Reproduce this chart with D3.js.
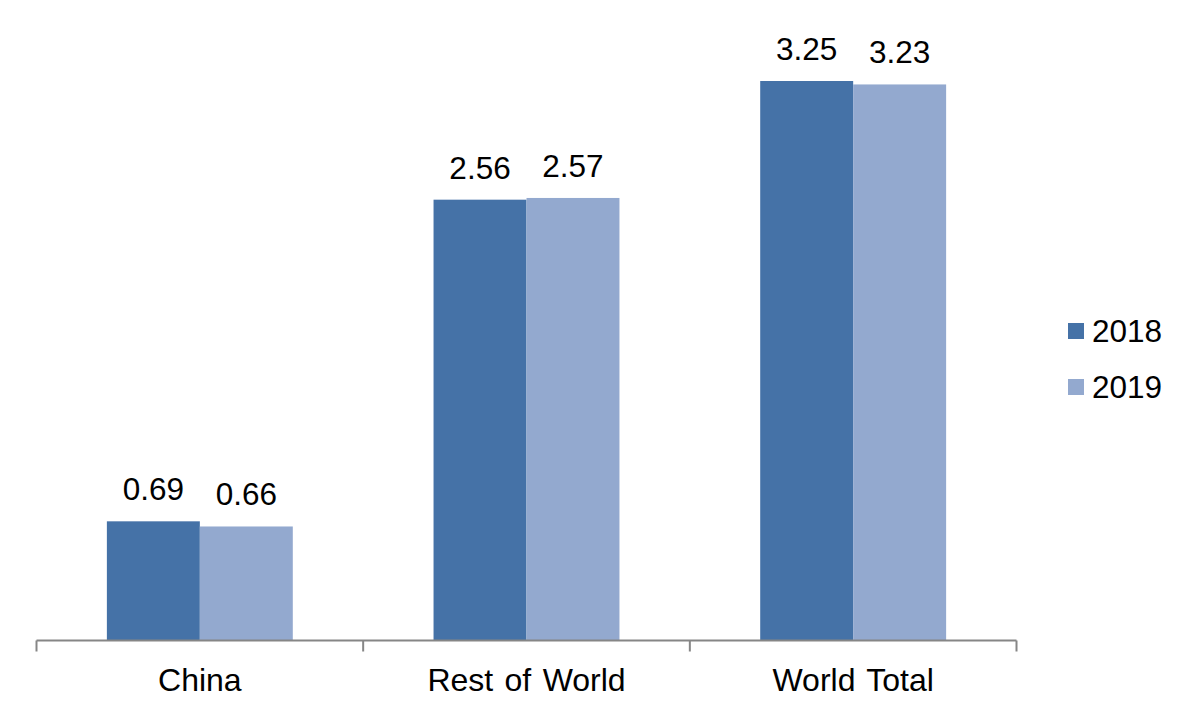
<!DOCTYPE html>
<html>
<head>
<meta charset="utf-8">
<script src="https://cdn.jsdelivr.net/npm/d3@7"></script>
<style>
html,body{margin:0;padding:0;background:#fff;}
svg{display:block;}
text{font-family:"Liberation Sans", Arial, sans-serif;fill:#000;}
</style>
</head>
<body>
<svg id="chart" width="1200" height="720"></svg>
<script>
const categories = ["China", "Rest of World", "World Total"];
const seriesNames = ["2018", "2019"];
const values2018 = [0.69, 2.56, 3.25];
const values2019 = [0.66, 2.57, 3.23];
const seriesValues = [values2018, values2019];
const colors = ["#4572A7", "#93A9CF"];

const svg = d3.select("#chart");
const axisY = 640.5;
const x0 = d3.scaleBand().domain(categories).range([36.5, 1016.5]).paddingInner(0).paddingOuter(0);
const x1 = d3.scaleBand().domain(seriesNames).range([0, x0.bandwidth()]).paddingInner(0).paddingOuter(0.757);
const y = d3.scaleLinear().domain([0, 3.5]).range([640, 640 - 3.5 * 172]);

const data = [];
categories.forEach((c, i) => {
  seriesNames.forEach((s, j) => data.push({cat: c, ser: s, v: seriesValues[j][i], j}));
});

svg.append("g").selectAll("rect").data(data).enter().append("rect")
  .attr("x", d => x0(d.cat) + x1(d.ser))
  .attr("width", x1.bandwidth())
  .attr("y", d => y(d.v))
  .attr("height", d => y(0) - y(d.v))
  .attr("fill", d => colors[d.j]);

svg.append("g").selectAll("text").data(data).enter().append("text")
  .attr("x", d => x0(d.cat) + x1(d.ser) + x1.bandwidth() / 2)
  .attr("y", d => y(d.v) - 21)
  .attr("text-anchor", "middle")
  .style("font-size", "31.5px")
  .text(d => d.v.toFixed(2));

// x axis
const ax = svg.append("g").attr("transform", `translate(0,${axisY})`);
ax.append("line").attr("x1", 36.5).attr("x2", 1016.5).attr("stroke", "#868686").attr("stroke-width", 2);
const tickXs = categories.map(c => x0(c)).concat([x0.range()[1]]);
ax.selectAll("line.tick").data(tickXs).enter().append("line")
  .attr("class", "tick")
  .attr("x1", d => d).attr("x2", d => d)
  .attr("y1", 0).attr("y2", 11)
  .attr("stroke", "#868686").attr("stroke-width", 2);
ax.selectAll("text").data(categories).enter().append("text")
  .attr("x", d => x0(d) + x0.bandwidth() / 2)
  .attr("y", 691 - axisY)
  .attr("text-anchor", "middle")
  .style("font-size", "32px")
  .style("word-spacing", "2.5px")
  .text(d => d);

// legend
const lg = svg.append("g");
seriesNames.forEach((s, j) => {
  const base = 342 + j * 56;
  lg.append("rect").attr("x", 1068).attr("y", base - 19).attr("width", 16).attr("height", 16).attr("fill", colors[j]);
  lg.append("text").attr("x", 1092).attr("y", base).style("font-size", "31.5px").text(s);
});
</script>
</body>
</html>
